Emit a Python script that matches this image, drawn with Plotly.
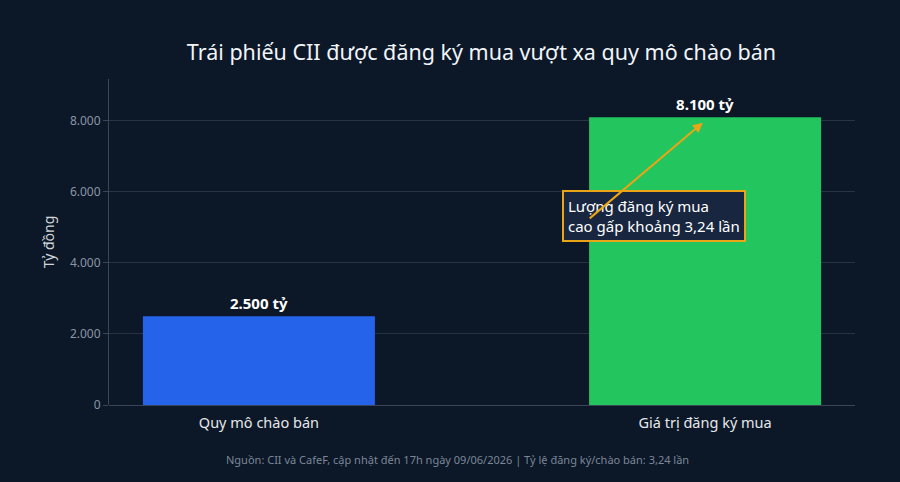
import plotly.graph_objects as go

# Dữ liệu
categories = ["Quy mô chào bán", "Giá trị đăng ký mua"]
values = [2500, 8100]
bar_colors = ["#2563eb", "#22c55e"]
y_ticks = [0, 2000, 4000, 6000, 8000]

ratio_text = "3,24"

bg = "#0c1727"
grid = "#263345"
orange = "#e9a515"

labels = [f"<b>{v:,.0f} tỷ</b>".replace(",", ".") for v in values]

fig = go.Figure(
    go.Bar(
        x=categories,
        y=values,
        marker=dict(color=bar_colors, line=dict(width=0)),
        width=0.52,
        text=labels,
        textposition="outside",
        textfont=dict(size=15, color="#ffffff"),
        cliponaxis=False,
        hoverinfo="skip",
    )
)

# hộp chú thích trước, mũi tên vẽ đè lên
fig.add_annotation(
    x=0.886, y=5330, xref="x", yref="y",
    text="Lượng đăng ký mua<br>cao gấp khoảng " + ratio_text + " lần",
    showarrow=False, align="left",
    font=dict(size=15, color="#ffffff"),
    bgcolor="#18263f",
    bordercolor=orange, borderwidth=2, borderpad=4,
)
fig.add_annotation(
    x=0.995, y=7950, ax=0.738, ay=5220,
    xref="x", yref="y", axref="x", ayref="y",
    text="", showarrow=True,
    arrowhead=2, arrowsize=1, arrowwidth=2, arrowcolor=orange,
)

fig.add_annotation(
    x=0.4665, y=-0.166, xref="paper", yref="paper", yanchor="middle",
    text="Nguồn: CII và CafeF, cập nhật đến 17h ngày 09/06/2026 | Tỷ lệ đăng ký/chào bán: " + ratio_text + " lần",
    showarrow=False, font=dict(size=11, color="#7b8799"),
)

fig.update_layout(
    width=900, height=482,
    paper_bgcolor=bg, plot_bgcolor=bg,
    font=dict(family="Noto Sans", color="#e5e7eb"),
    separators=",.",
    title=dict(
        text="Trái phiếu CII được đăng ký mua vượt xa quy mô chào bán",
        x=0.535, xanchor="center", y=0.892, yanchor="middle",
        font=dict(size=21.5, color="#f1f5f9"),
    ),
    margin=dict(l=109, r=45, t=79, b=77),
    showlegend=False,
    xaxis=dict(
        range=[-0.336, 1.336], showgrid=False, zeroline=False,
        showline=False, ticks="", ticklabelstandoff=7,
        tickfont=dict(size=14.5, color="#e5e7eb"),
    ),
    yaxis=dict(
        range=[0, 9180], tickvals=y_ticks, tickformat=",d",
        showgrid=True, gridcolor=grid, gridwidth=1,
        zeroline=True, zerolinecolor="#3a4658", zerolinewidth=1,
        showline=True, linecolor="#3a4658", linewidth=1,
        ticks="outside", tickcolor="#3a4658", ticklen=5,
        tickfont=dict(size=12, color="#8a96a8"),
        title=dict(text="Tỷ đồng", font=dict(size=14, color="#d1d5db"), standoff=12),
    ),
)

fig.write_html(
    "out.html",
    config={"displayModeBar": False},
    post_script="document.body.style.margin='0';",
)
